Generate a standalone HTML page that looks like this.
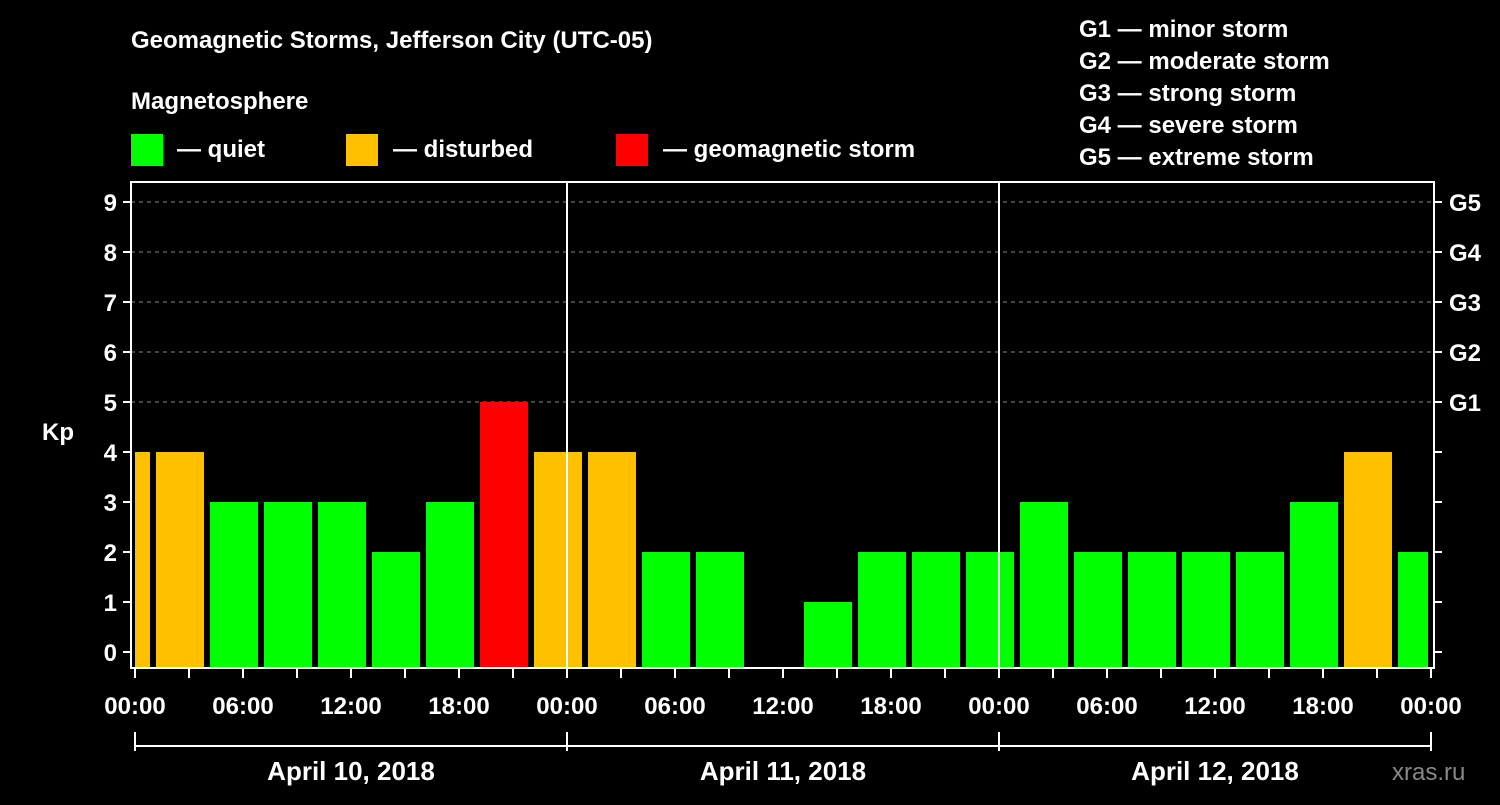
<!DOCTYPE html>
<html><head><meta charset="utf-8"><style>
body{margin:0;background:#000;width:1500px;height:800px;overflow:hidden}
svg text{font-family:"Liberation Sans",sans-serif;font-weight:bold;fill:#fff}
</style></head><body>
<svg id="chart" width="1500" height="800" xmlns="http://www.w3.org/2000/svg">
<text x="131" y="48" font-size="24">Geomagnetic Storms, Jefferson City (UTC-05)</text>
<text x="131" y="109" font-size="24">Magnetosphere</text>
<rect x="131" y="134" width="32" height="32" fill="#00ff00"/>
<text x="177" y="157" font-size="24">— quiet</text>
<rect x="346" y="134" width="32" height="32" fill="#ffc000"/>
<text x="393" y="157" font-size="24">— disturbed</text>
<rect x="616" y="134" width="32" height="32" fill="#ff0000"/>
<text x="663" y="157" font-size="24">— geomagnetic storm</text>
<g font-size="24">
<text x="1079" y="37">G1 — minor storm</text>
<text x="1079" y="69">G2 — moderate storm</text>
<text x="1079" y="101">G3 — strong storm</text>
<text x="1079" y="133">G4 — severe storm</text>
<text x="1079" y="165">G5 — extreme storm</text>
</g>
<text x="42" y="440" font-size="24">Kp</text>
<text x="1392" y="780" font-size="24" style="font-weight:normal;fill:#888">xras.ru</text>
<g id="plot"></g>
</svg>
<script>
const kpValues=[4,4,3,3,3,2,3,5,4,4,2,2,null,1,2,2,2,3,2,2,2,2,3,4,2];
const startHour=-2; // first bar starts 2h before 00:00 local
const xTickLabels=["00:00","06:00","12:00","18:00","00:00","06:00","12:00","18:00","00:00","06:00","12:00","18:00","00:00"];
const dateLabels=["April 10, 2018","April 11, 2018","April 12, 2018"];
const gLabels=["G1","G2","G3","G4","G5"];
const NS="http://www.w3.org/2000/svg";
const X0=135,PXH=18,Y0=652,PXK=50,LEFT=131,RIGHT=1434,TOP=182,BOT=668;
const xs=h=>X0+h*PXH, ys=k=>Y0-k*PXK;
const g=document.getElementById('plot');
function mk(t,a){const e=document.createElementNS(NS,t);for(const k in a)e.setAttribute(k,a[k]);g.appendChild(e);return e;}
// grid
for(let k=5;k<=9;k++){const l=mk('line',{x1:LEFT,x2:RIGHT,y1:ys(k),y2:ys(k),stroke:'#888','stroke-dasharray':'4,4','stroke-width':1});

}
// bars
kpValues.forEach((v,i)=>{if(v===null)return;
let a=xs(startHour+i*3)+3,b=xs(startHour+i*3+3)-3;a=Math.max(a,X0);b=Math.min(b,1428);
const c=v>=5?'#ff0000':v>=4?'#ffc000':'#00ff00';
const r=mk('rect',{x:a,y:ys(v),width:b-a,height:BOT-ys(v),fill:c});

});
// frame
const fr=mk('rect',{x:LEFT,y:TOP,width:RIGHT-LEFT,height:BOT-TOP,fill:'none',stroke:'#fff','stroke-width':2});


// day separators
[24,48].forEach(h=>{const l=mk('line',{x1:xs(h),x2:xs(h),y1:TOP,y2:BOT,stroke:'#fff','stroke-width':2});

});
// y ticks
for(let k=0;k<=9;k++){
mk('line',{x1:LEFT-8,x2:LEFT,y1:ys(k),y2:ys(k),stroke:'#fff','stroke-width':2});
mk('line',{x1:RIGHT,x2:RIGHT+8,y1:ys(k),y2:ys(k),stroke:'#fff','stroke-width':2});
const t=mk('text',{x:LEFT-14,y:ys(k)+9,'font-size':24,'text-anchor':'end'});t.textContent=k;

}
gLabels.forEach((s,i)=>{const t=mk('text',{x:1449,y:ys(5+i)+9,'font-size':24});t.textContent=s;

});
// x ticks
for(let h=0;h<=72;h+=3)mk('line',{x1:xs(h),x2:xs(h),y1:BOT,y2:BOT+10,stroke:'#fff','stroke-width':2});
xTickLabels.forEach((s,i)=>{const t=mk('text',{x:xs(i*6),y:714,'font-size':24,'text-anchor':'middle'});t.textContent=s;

});
// date brackets
mk('line',{x1:xs(0),x2:xs(72),y1:746,y2:746,stroke:'#fff','stroke-width':2});
[0,24,48,72].forEach(h=>mk('line',{x1:xs(h),x2:xs(h),y1:732,y2:751,stroke:'#fff','stroke-width':2}));
dateLabels.forEach((s,i)=>{const t=mk('text',{x:xs(i*24+12),y:780,'font-size':26,'text-anchor':'middle'});t.textContent=s;

});
</script>
</body></html>
